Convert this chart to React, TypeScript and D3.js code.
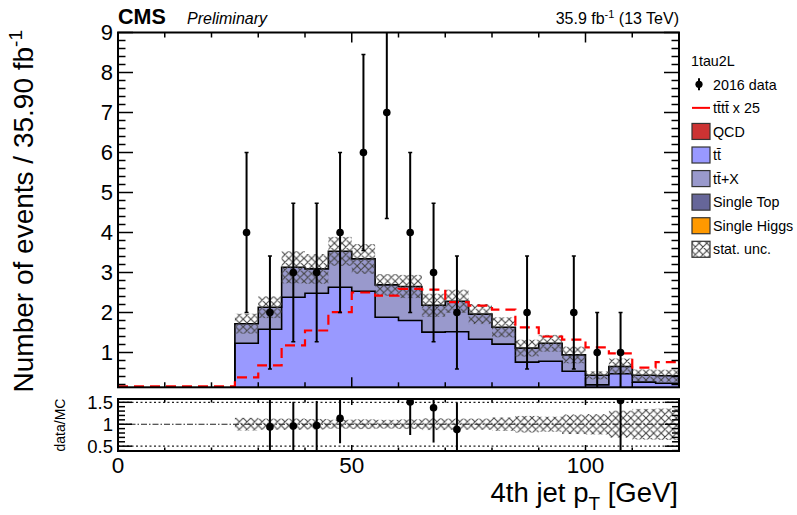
import * as d3 from "d3";
import React, { useEffect, useRef } from "react";

// 4th jet pT binning (low edges, GeV), 5 GeV wide bins
const binLow = [0, 5, 10, 15, 20, 25, 30, 35, 40, 45, 50, 55, 60, 65, 70, 75, 80, 85, 90, 95, 100, 105, 110, 115];
const binWidth = 5;

// 2016 data and its errors
const dataCounts = [0, 0, 0, 0, 0, 4, 2, 3, 3, 4, 6, 7, 4, 3, 2, 0, 0, 2, 0, 2, 1, 1, 0, 0];
const dataErr = [0, 0, 0, 0, 0, 2, 1.41, 1.73, 1.73, 2, 2.45, 2.65, 2, 1.73, 1.41, 0, 0, 1.41, 0, 1.41, 1, 1, 0, 0];

// stacked backgrounds
const ttbar = [0, 0, 0, 0, 0, 1.23, 1.58, 2.38, 2.48, 2.63, 2.53, 1.88, 1.8, 1.51, 1.52, 1.33, 1.21, 0.76, 0.78, 0.53, 0.19, 0.47, 0.26, 0.23];
const ttX = [0, 0, 0, 0, 0, 0.49, 0.55, 0.75, 0.61, 0.9, 0.81, 0.81, 0.85, 0.67, 0.76, 0.63, 0.42, 0.35, 0.45, 0.41, 0.24, 0.18, 0.17, 0.19];
const statUnc = [0, 0, 0, 0, 0, 0.25, 0.27, 0.4, 0.37, 0.36, 0.37, 0.27, 0.29, 0.29, 0.29, 0.25, 0.25, 0.21, 0.21, 0.21, 0.1, 0.2, 0.15, 0.15];

// signal tttt scaled x25
const tttt25 = [0, 0, 0, 0, 0, 0.38, 0.68, 1.18, 1.55, 2.01, 2.5, 2.42, 2.59, 2.57, 2.26, 2.17, 2.07, 1.63, 1.4, 1.32, 1.13, 0.98, 0.62, 0.76];

const mainYTicks = [1, 2, 3, 4, 5, 6, 7, 8, 9];
const ratioYTicks = [0.5, 1, 1.5];
const xTickLabels = [0, 50, 100];

const legendItems = [
  { kind: "data", label: "2016 data" },
  { kind: "line", label: "tt\u0304tt\u0304 x 25", color: "#ff0000" },
  { kind: "box", label: "QCD", color: "#cc3333" },
  { kind: "box", label: "tt\u0304", color: "#9999ff" },
  { kind: "box", label: "tt\u0304+X", color: "#9999cc" },
  { kind: "box", label: "Single Top", color: "#666699" },
  { kind: "box", label: "Single Higgs", color: "#ff9900" },
  { kind: "hatch", label: "stat. unc." },
];

const FONT = "'Liberation Sans', Arial, Helvetica, sans-serif";

export default function App() {
  const svgRef = useRef<SVGSVGElement | null>(null);
  const w = 797;
  const h = 515;
  const left = 118;
  const right = 679;
  const mainTop = 32.5;
  const mainBottom = 387.3;
  const ratioTop = 399;
  const ratioBottom = 451;

  useEffect(() => {
    const svgEl = d3.select(svgRef.current);
    svgEl.selectAll("*").remove();

    const x = d3.scaleLinear().domain([0, 120]).range([left, right]);
    const y = d3.scaleLinear().domain([0.13, 9]).range([mainBottom, mainTop]).clamp(true);
    const yr = d3.scaleLinear().domain([0.39, 1.575]).range([ratioBottom, ratioTop]);
    const yrc = yr.copy().clamp(true);

    const defs = svgEl.append("defs");
    const pat = defs.append("pattern")
      .attr("id", "hatch")
      .attr("patternUnits", "userSpaceOnUse")
      .attr("width", 7.6)
      .attr("height", 7.6);
    pat.append("path")
      .attr("d", "M0,0 L7.6,7.6 M7.6,0 L0,7.6 M-1,6.6 L1,8.6 M6.6,-1 L8.6,1")
      .attr("stroke", "#444")
      .attr("stroke-width", 1.1)
      .attr("fill", "none");
    defs.append("clipPath").attr("id", "clipMain")
      .append("rect").attr("x", left).attr("y", mainTop).attr("width", right - left).attr("height", mainBottom - mainTop);
    defs.append("clipPath").attr("id", "clipRatio")
      .append("rect").attr("x", left).attr("y", ratioTop).attr("width", right - left).attr("height", ratioBottom - ratioTop);

    const svg = svgEl.append("g").style("font-family", FONT);
    svg.append("rect").attr("width", w).attr("height", h).attr("fill", "white");

    // bins with any background
    const idx = binLow.map((_, i) => i).filter((i) => ttbar[i] + ttX[i] > 0);
    const total = binLow.map((_, i) => ttbar[i] + ttX[i]);

    const stepPts = (vals: number[], ids: number[]) => {
      const pts: { x: number; hi: number }[] = [];
      ids.forEach((i) => {
        pts.push({ x: binLow[i], hi: vals[i] });
        pts.push({ x: binLow[i] + binWidth, hi: vals[i] });
      });
      return pts;
    };

    const area = d3.area<{ x: number; hi: number }>()
      .x((d) => x(d.x))
      .y0(() => y(0))
      .y1((d) => y(d.hi));

    const outline = (vals: number[], ids: number[]) => {
      const pts = stepPts(vals, ids);
      const first = pts[0].x;
      const last = pts[pts.length - 1].x;
      const all = [{ x: first, hi: 0 }, ...pts, { x: last, hi: 0 }];
      return d3.line<{ x: number; hi: number }>().x((d) => x(d.x)).y((d) => y(d.hi))(all);
    };

    const main = svg.append("g").attr("clip-path", "url(#clipMain)");

    // stack: tt+X on top of tt
    main.append("path").attr("d", area(stepPts(total, idx))).attr("fill", "#9999cc");
    main.append("path").attr("d", area(stepPts(ttbar, idx))).attr("fill", "#9999ff");
    main.append("path").attr("d", outline(total, idx)).attr("fill", "none").attr("stroke", "black").attr("stroke-width", 1.6);
    main.append("path").attr("d", outline(ttbar, idx)).attr("fill", "none").attr("stroke", "black").attr("stroke-width", 1.6);

    // stat. unc. hatch
    main.selectAll("rect.unc")
      .data(idx)
      .enter()
      .append("rect")
      .attr("class", "unc")
      .attr("x", (i) => x(binLow[i]))
      .attr("width", (i) => x(binLow[i] + binWidth) - x(binLow[i]))
      .attr("y", (i) => y(total[i] + statUnc[i]))
      .attr("height", (i) => y(total[i] - statUnc[i]) - y(total[i] + statUnc[i]))
      .attr("fill", "url(#hatch)");

    // signal line
    const sigPts: { x: number; hi: number }[] = [];
    binLow.forEach((b, i) => {
      sigPts.push({ x: b, hi: tttt25[i] });
      sigPts.push({ x: b + binWidth, hi: tttt25[i] });
    });
    main.append("path")
      .attr("d", d3.line<{ x: number; hi: number }>().x((d) => x(d.x)).y((d) => Math.min(y(d.hi), mainBottom - 1))(sigPts))
      .attr("fill", "none")
      .attr("stroke", "#ff0000")
      .attr("stroke-width", 2.2)
      .attr("stroke-dasharray", "10,6");

    // data points
    const dIdx = binLow.map((_, i) => i).filter((i) => dataCounts[i] > 0);
    const dg = main.append("g");
    dIdx.forEach((i) => {
      const cx = x(binLow[i] + binWidth / 2);
      const lo = dataCounts[i] - dataErr[i];
      const hi = dataCounts[i] + dataErr[i];
      dg.append("line").attr("x1", cx).attr("x2", cx).attr("y1", y(lo)).attr("y2", y(hi))
        .attr("stroke", "black").attr("stroke-width", 2);
      if (hi < 9) dg.append("line").attr("x1", cx - 2).attr("x2", cx + 2).attr("y1", y(hi)).attr("y2", y(hi)).attr("stroke", "black").attr("stroke-width", 1.5);
      if (lo > 0.13) dg.append("line").attr("x1", cx - 2).attr("x2", cx + 2).attr("y1", y(lo)).attr("y2", y(lo)).attr("stroke", "black").attr("stroke-width", 1.5);
      dg.append("circle").attr("cx", cx).attr("cy", y(dataCounts[i])).attr("r", 3.8).attr("fill", "black");
    });

    // ratio panel
    const rg = svg.append("g").attr("clip-path", "url(#clipRatio)");
    rg.selectAll("rect.runc")
      .data(idx)
      .enter()
      .append("rect")
      .attr("class", "runc")
      .attr("x", (i) => x(binLow[i]))
      .attr("width", (i) => x(binLow[i] + binWidth) - x(binLow[i]))
      .attr("y", (i) => yr(1 + statUnc[i] / total[i]))
      .attr("height", (i) => yr(1 - statUnc[i] / total[i]) - yr(1 + statUnc[i] / total[i]))
      .attr("fill", "url(#hatch)");
    [0.5, 1.5].forEach((v) => {
      rg.append("line").attr("x1", left).attr("x2", right).attr("y1", yr(v)).attr("y2", yr(v))
        .attr("stroke", "#222").attr("stroke-width", 1.2).attr("stroke-dasharray", "2,2.5");
    });
    rg.append("line").attr("x1", left).attr("x2", right).attr("y1", yr(1)).attr("y2", yr(1))
      .attr("stroke", "#222").attr("stroke-width", 1.2).attr("stroke-dasharray", "6,2,1.5,2");
    dIdx.forEach((i) => {
      const r = dataCounts[i] / total[i];
      if (!(total[i] > 0) || r > 1.575 || r < 0.39) return;
      const e = dataErr[i] / total[i];
      const cx = x(binLow[i] + binWidth / 2);
      rg.append("line").attr("x1", cx).attr("x2", cx).attr("y1", yrc(r - e)).attr("y2", yrc(r + e))
        .attr("stroke", "black").attr("stroke-width", 2);
      rg.append("circle").attr("cx", cx).attr("cy", yr(r)).attr("r", 3.8).attr("fill", "black");
    });

    // frames
    [[mainTop, mainBottom], [ratioTop, ratioBottom]].forEach(([t, b]) => {
      svg.append("rect").attr("x", left).attr("y", t).attr("width", right - left).attr("height", b - t)
        .attr("fill", "none").attr("stroke", "black").attr("stroke-width", 2);
    });

    // ticks
    const ax = svg.append("g").attr("stroke", "black").attr("stroke-width", 1.5);
    const xMinor = d3.range(0, 121, 10);
    const addXTicks = (top: number, bottom: number, maj: number, min: number) => {
      xMinor.forEach((v) => {
        const len = v % 50 === 0 ? maj : min;
        ax.append("line").attr("x1", x(v)).attr("x2", x(v)).attr("y1", bottom).attr("y2", bottom - len);
        ax.append("line").attr("x1", x(v)).attr("x2", x(v)).attr("y1", top).attr("y2", top + len);
      });
    };
    addXTicks(mainTop, mainBottom, 10, 5);
    addXTicks(ratioTop, ratioBottom, 6, 3.5);

    const yMinor = d3.range(1, 46).map((k) => k * 0.2);
    yMinor.forEach((v) => {
      const isMaj = Math.abs(v - Math.round(v)) < 1e-6;
      const len = isMaj ? 15 : 7.5;
      ax.append("line").attr("x1", left).attr("x2", left + len).attr("y1", y(v)).attr("y2", y(v));
      ax.append("line").attr("x1", right).attr("x2", right - len).attr("y1", y(v)).attr("y2", y(v));
    });
    d3.range(4, 16).map((k) => k * 0.1).forEach((v) => {
      const isMaj = Math.abs(v * 2 - Math.round(v * 2)) < 1e-6;
      const len = isMaj ? 14 : 7;
      ax.append("line").attr("x1", left).attr("x2", left + len).attr("y1", yr(v)).attr("y2", yr(v));
      ax.append("line").attr("x1", right).attr("x2", right - len).attr("y1", yr(v)).attr("y2", yr(v));
    });

    // tick labels
    svg.selectAll("text.ylab")
      .data(mainYTicks)
      .enter()
      .append("text")
      .attr("x", 113)
      .attr("y", (d) => y(d) + 7.8)
      .attr("text-anchor", "end")
      .attr("font-size", 22)
      .text((d) => d);
    svg.selectAll("text.rlab")
      .data(ratioYTicks)
      .enter()
      .append("text")
      .attr("x", 113)
      .attr("y", (d) => yr(d) + 6.5)
      .attr("text-anchor", "end")
      .attr("font-size", 18.5)
      .text((d) => d);
    svg.selectAll("text.xlab")
      .data(xTickLabels)
      .enter()
      .append("text")
      .attr("x", (d) => x(d))
      .attr("y", 472.5)
      .attr("text-anchor", "middle")
      .attr("font-size", 22.5)
      .text((d) => d);

    // axis titles
    const xt = svg.append("text").attr("x", 678).attr("y", 501.5).attr("text-anchor", "end").attr("font-size", 27.5);
    xt.append("tspan").text("4th jet p");
    xt.append("tspan").attr("font-size", 19).attr("dy", 8.5).text("T");
    xt.append("tspan").attr("dy", -8.5).text(" [GeV]");

    const yt = svg.append("text").attr("transform", "translate(33,30) rotate(-90)").attr("text-anchor", "end").attr("font-size", 28);
    yt.append("tspan").text("Number of events / 35.90 fb");
    yt.append("tspan").attr("font-size", 19).attr("dy", -11).text("-1");

    svg.append("text").attr("transform", "translate(65,425) rotate(-90)").attr("text-anchor", "middle")
      .attr("font-size", 14).text("data/MC");

    // header
    svg.append("text").attr("x", 118).attr("y", 24).attr("font-size", 21.5).attr("font-weight", "bold").text("CMS");
    svg.append("text").attr("x", 187).attr("y", 24).attr("font-size", 16).attr("font-style", "italic").text("Preliminary");
    const lumi = svg.append("text").attr("x", 679).attr("y", 24).attr("text-anchor", "end").attr("font-size", 16);
    lumi.append("tspan").text("35.9 fb");
    lumi.append("tspan").attr("font-size", 11).attr("dy", -6).text("-1");
    lumi.append("tspan").attr("dy", 6).text(" (13 TeV)");

    // legend
    const lg = svg.append("g").attr("font-size", 14.3);
    lg.append("text").attr("x", 691).attr("y", 61 + 5).text("1tau2L");
    legendItems.forEach((item, k) => {
      const cy = 84.3 + k * 23.57;
      if (item.kind === "data") {
        lg.append("line").attr("x1", 699).attr("x2", 699).attr("y1", cy - 6).attr("y2", cy + 6).attr("stroke", "black").attr("stroke-width", 2);
        lg.append("circle").attr("cx", 699).attr("cy", cy).attr("r", 3.6).attr("fill", "black");
      } else if (item.kind === "line") {
        lg.append("line").attr("x1", 692).attr("x2", 710).attr("y1", cy).attr("y2", cy).attr("stroke", item.color).attr("stroke-width", 2);
      } else {
        lg.append("rect").attr("x", 692).attr("y", cy - 8).attr("width", 18).attr("height", 16)
          .attr("fill", item.kind === "hatch" ? "url(#hatch)" : item.color)
          .attr("stroke", "#333").attr("stroke-width", 1.2);
      }
      lg.append("text").attr("x", 713).attr("y", cy + 5.2).text(item.label);
    });
  });

  return (
    <svg
      ref={svgRef}
      width={w}
      height={h}
      viewBox={`0 0 ${w} ${h}`}
      style={{ position: "absolute", left: 0, top: 0, display: "block" }}
    />
  );
}
